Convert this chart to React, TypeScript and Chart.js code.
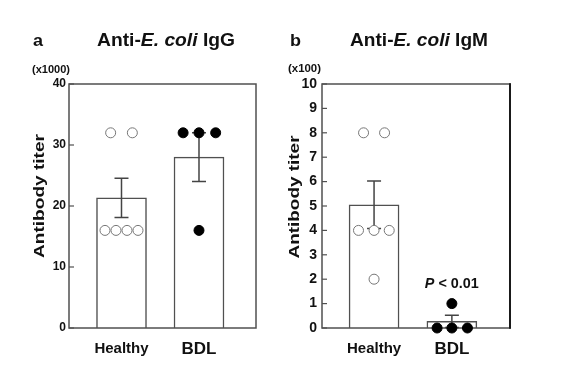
import React, { useEffect, useRef } from 'react';
import { Chart, registerables } from 'chart.js';

Chart.register(...registerables);

// ---------- data ----------
const categories = ['Healthy', 'BDL'];

// Panel a: Anti-E. coli IgG (x1000)
const iggTicks = [0, 10, 20, 30, 40];
const iggMeans = [21.33, 28];
const iggSem = [3.2, 4];
const iggHealthyValues = [32, 32, 16, 16, 16, 16];
const iggHealthyJitter = [-0.14, 0.14, -0.213, -0.071, 0.071, 0.213];
const iggBdlValues = [32, 32, 32, 16];
const iggBdlJitter = [-0.205, 0, 0.215, 0];

// Panel b: Anti-E. coli IgM (x100)
const igmTicks = [0, 1, 2, 3, 4, 5, 6, 7, 8, 9, 10];
const igmMeans = [5.05, 0.27];
const igmSem = [0.97, 0.25];
const igmHealthyValues = [8, 8, 4, 4, 4, 2];
const igmHealthyJitter = [-0.135, 0.135, -0.2, 0, 0.195, 0];
const igmBdlValues = [1, 0, 0, 0];
const igmBdlJitter = [0, -0.19, 0, 0.2];

// ---------- styling ----------
const SANS = "'Liberation Sans', Arial, Helvetica, sans-serif";
const INK = '#111';
const EDGE = '#505050';

type Seg = { t: string; italic?: boolean };

function fontFor(s: Seg, size: number, family: string) {
  return `${s.italic ? 'italic ' : ''}bold ${size}px ${family}`;
}

function drawFitted(
  ctx: CanvasRenderingContext2D,
  segs: Seg[],
  o: { x: number; y: number; size: number; width: number; family: string; align: 'left' | 'center'; rotate?: boolean; baseline?: CanvasTextBaseline }
) {
  ctx.save();
  let total = 0;
  const ws = segs.map((s) => {
    ctx.font = fontFor(s, o.size, o.family);
    const w = ctx.measureText(s.t).width;
    total += w;
    return w;
  });
  const sx = o.width / total;
  ctx.translate(o.x, o.y);
  if (o.rotate) ctx.rotate(-Math.PI / 2);
  ctx.scale(sx, 1);
  let cx = o.align === 'center' ? -total / 2 : 0;
  ctx.textAlign = 'left';
  ctx.textBaseline = o.baseline ?? 'alphabetic';
  ctx.fillStyle = INK;
  segs.forEach((s, i) => {
    ctx.font = fontFor(s, o.size, o.family);
    ctx.fillText(s.t, cx, 0);
    cx += ws[i];
  });
  ctx.restore();
}

type Spec = {
  canvasLeft: number;
  canvasWidth: number;
  yAxisWidth: number;
  padRight: number;
  padTop: number;
  xAxisHeight: number;
  xMin: number;
  xMax: number;
  yTicks: number[];
  yTickFont: { family: string; size: number; weight: string };
  yTickPad: number;
  means: number[];
  sems: number[];
  healthyValues: number[];
  healthyJitter: number[];
  bdlValues: number[];
  bdlJitter: number[];
  letter: string;
  letterX: number;
  letterW: number;
  titleIg: string;
  titleX: number;
  titleW: number;
  note: string;
  noteX: number;
  noteW: number;
  noteY: number;
  yTitleX: number;
  yTitleY: number;
  yTitleLen: number;
  pText: boolean;
  heavyRight: boolean;
};

const specA: Spec = {
  canvasLeft: 0,
  canvasWidth: 283,
  yAxisWidth: 69,
  padRight: 27,
  padTop: 84,
  xAxisHeight: 53,
  xMin: 0.3226,
  xMax: 2.7355,
  yTicks: iggTicks,
  yTickFont: { family: SANS, size: 12, weight: 'bold' },
  yTickPad: 3,
  means: iggMeans,
  sems: iggSem,
  healthyValues: iggHealthyValues,
  healthyJitter: iggHealthyJitter,
  bdlValues: iggBdlValues,
  bdlJitter: iggBdlJitter,
  letter: 'a',
  letterX: 33,
  letterW: 10,
  titleIg: ' IgG',
  titleX: 97,
  titleW: 138,
  note: '(x1000)',
  noteX: 32,
  noteW: 38,
  noteY: 73,
  yTitleX: 40,
  yTitleY: 196,
  yTitleLen: 124,
  pText: false,
  heavyRight: false,
};

const specB: Spec = {
  canvasLeft: 283,
  canvasWidth: 284,
  yAxisWidth: 39,
  padRight: 57,
  padTop: 84,
  xAxisHeight: 53,
  xMin: 0.331,
  xMax: 2.747,
  yTicks: igmTicks,
  yTickFont: { family: SANS, size: 14, weight: 'bold' },
  yTickPad: 5,
  means: igmMeans,
  sems: igmSem,
  healthyValues: igmHealthyValues,
  healthyJitter: igmHealthyJitter,
  bdlValues: igmBdlValues,
  bdlJitter: igmBdlJitter,
  letter: 'b',
  letterX: 290,
  letterW: 11,
  titleIg: ' IgM',
  titleX: 350,
  titleW: 138,
  note: '(x100)',
  noteX: 288,
  noteW: 33,
  noteY: 72,
  yTitleX: 295.5,
  yTitleY: 197,
  yTitleLen: 123,
  pText: true,
  heavyRight: true,
};

function makeConfig(spec: Spec): any {
  const off = spec.canvasLeft;
  const deco = {
    id: 'panelDeco',
    afterDatasetDraw(chart: any, args: any) {
      if (args.index !== 2) return;
      const { ctx, chartArea: ca, scales } = chart;
      const xs = scales.x;
      const ys = scales.y;
      ctx.save();
      // frame
      ctx.strokeStyle = EDGE;
      ctx.lineWidth = 1.5;
      ctx.strokeRect(ca.left, ca.top, ca.right - ca.left, ca.bottom - ca.top);
      if (spec.heavyRight) {
        ctx.strokeStyle = '#1a1a1a';
        ctx.lineWidth = 2;
        ctx.beginPath();
        ctx.moveTo(ca.right, ca.top - 0.75);
        ctx.lineTo(ca.right, ca.bottom + 0.75);
        ctx.stroke();
      }
      // inward tick marks
      ctx.strokeStyle = EDGE;
      ctx.lineWidth = 1.2;
      ys.ticks.forEach((t: any) => {
        const py = ys.getPixelForValue(t.value);
        ctx.beginPath();
        ctx.moveTo(ca.left, py);
        ctx.lineTo(ca.left + 5, py);
        ctx.stroke();
      });
      // error bars
      ctx.strokeStyle = '#444';
      ctx.lineWidth = 1.5;
      spec.means.forEach((m, i) => {
        const px = xs.getPixelForValue(i + 1);
        const lo = ys.getPixelForValue(m - spec.sems[i]);
        const hi = ys.getPixelForValue(m + spec.sems[i]);
        ctx.beginPath();
        ctx.moveTo(px, lo);
        ctx.lineTo(px, hi);
        ctx.moveTo(px - 7, lo);
        ctx.lineTo(px + 7, lo);
        ctx.moveTo(px - 7, hi);
        ctx.lineTo(px + 7, hi);
        ctx.stroke();
      });
      ctx.restore();
    },
    afterDraw(chart: any) {
      const ctx = chart.ctx as CanvasRenderingContext2D;
      drawFitted(ctx, [{ t: spec.letter }], { x: spec.letterX - off, y: 46, size: 17, width: spec.letterW, family: SANS, align: 'left' });
      drawFitted(ctx, [{ t: 'Anti-' }, { t: 'E. coli', italic: true }, { t: spec.titleIg }], {
        x: spec.titleX - off, y: 46, size: 18, width: spec.titleW, family: SANS, align: 'left',
      });
      drawFitted(ctx, [{ t: spec.note }], { x: spec.noteX - off, y: spec.noteY, size: 11.5, width: spec.noteW, family: SANS, align: 'left' });
      drawFitted(ctx, [{ t: 'Antibody titer' }], {
        x: spec.yTitleX - off, y: spec.yTitleY, size: 14, width: spec.yTitleLen, family: SANS, align: 'center', rotate: true, baseline: 'middle',
      });
      if (spec.pText) {
        const px = chart.scales.x.getPixelForValue(2);
        drawFitted(ctx, [{ t: 'P', italic: true }, { t: ' < 0.01' }], { x: px, y: 288, size: 14, width: 54, family: SANS, align: 'center' });
      }
    },
  };

  return {
    type: 'scatter',
    data: {
      datasets: [
        {
          type: 'scatter',
          data: spec.healthyValues.map((v, i) => ({ x: 1 + spec.healthyJitter[i], y: v })),
          pointRadius: 5,
          pointBorderWidth: 1,
          pointBackgroundColor: '#fff',
          pointBorderColor: '#777',
          order: 0,
          clip: false,
        },
        {
          type: 'scatter',
          data: spec.bdlValues.map((v, i) => ({ x: 2 + spec.bdlJitter[i], y: v })),
          pointRadius: 5,
          pointBorderWidth: 1,
          pointBackgroundColor: '#000',
          pointBorderColor: '#000',
          order: 0,
          clip: false,
        },
        {
          type: 'bar',
          data: spec.means.map((m, i) => ({ x: i + 1, y: m })),
          barThickness: 50,
          backgroundColor: '#fff',
          borderColor: EDGE,
          borderWidth: 1.5,
          order: 1,
        },
      ],
    },
    options: {
      responsive: false,
      animation: false,
      devicePixelRatio: 1,
      events: [],
      layout: { padding: { left: 0, right: spec.padRight, top: spec.padTop, bottom: 0 } },
      plugins: { legend: { display: false }, tooltip: { enabled: false }, title: { display: false } },
      scales: {
        x: {
          type: 'linear',
          min: spec.xMin,
          max: spec.xMax,
          offset: false,
          grid: { display: false, offset: false, drawTicks: false },
          border: { display: false },
          afterBuildTicks: (s: any) => {
            s.ticks = categories.map((_, i) => ({ value: i + 1 }));
          },
          afterFit: (s: any) => {
            s.height = spec.xAxisHeight;
          },
          ticks: {
            padding: 11,
            color: INK,
            maxRotation: 0,
            autoSkip: false,
            callback: (v: any) => categories[Math.round(Number(v)) - 1] ?? '',
            font: (c: any) =>
              c.index === 0
                ? { family: SANS, size: 15, weight: 'bold', lineHeight: 1.37 }
                : { family: SANS, size: 17, weight: 'bold', lineHeight: 1.2 },
          },
        },
        y: {
          type: 'linear',
          min: spec.yTicks[0],
          max: spec.yTicks[spec.yTicks.length - 1],
          grid: { display: false, drawTicks: false },
          border: { display: false },
          afterBuildTicks: (s: any) => {
            s.ticks = spec.yTicks.map((v) => ({ value: v }));
          },
          afterFit: (s: any) => {
            s.width = spec.yAxisWidth;
          },
          ticks: {
            padding: spec.yTickPad,
            color: INK,
            font: spec.yTickFont,
          },
        },
      },
    },
    plugins: [deco],
  };
}

function Panel({ spec }: { spec: Spec }) {
  const ref = useRef<HTMLCanvasElement>(null);
  useEffect(() => {
    const chart = new Chart(ref.current as HTMLCanvasElement, makeConfig(spec));
    return () => chart.destroy();
  }, [spec]);
  return (
    <canvas
      ref={ref}
      width={spec.canvasWidth}
      height={381}
      style={{ position: 'absolute', left: spec.canvasLeft, top: 0, width: spec.canvasWidth, height: 381, display: 'block' }}
    />
  );
}

export default function App() {
  return (
    <div style={{ position: 'absolute', left: 0, top: 0, width: 567, height: 381, background: '#fff', overflow: 'hidden' }}>
      <Panel spec={specA} />
      <Panel spec={specB} />
    </div>
  );
}
